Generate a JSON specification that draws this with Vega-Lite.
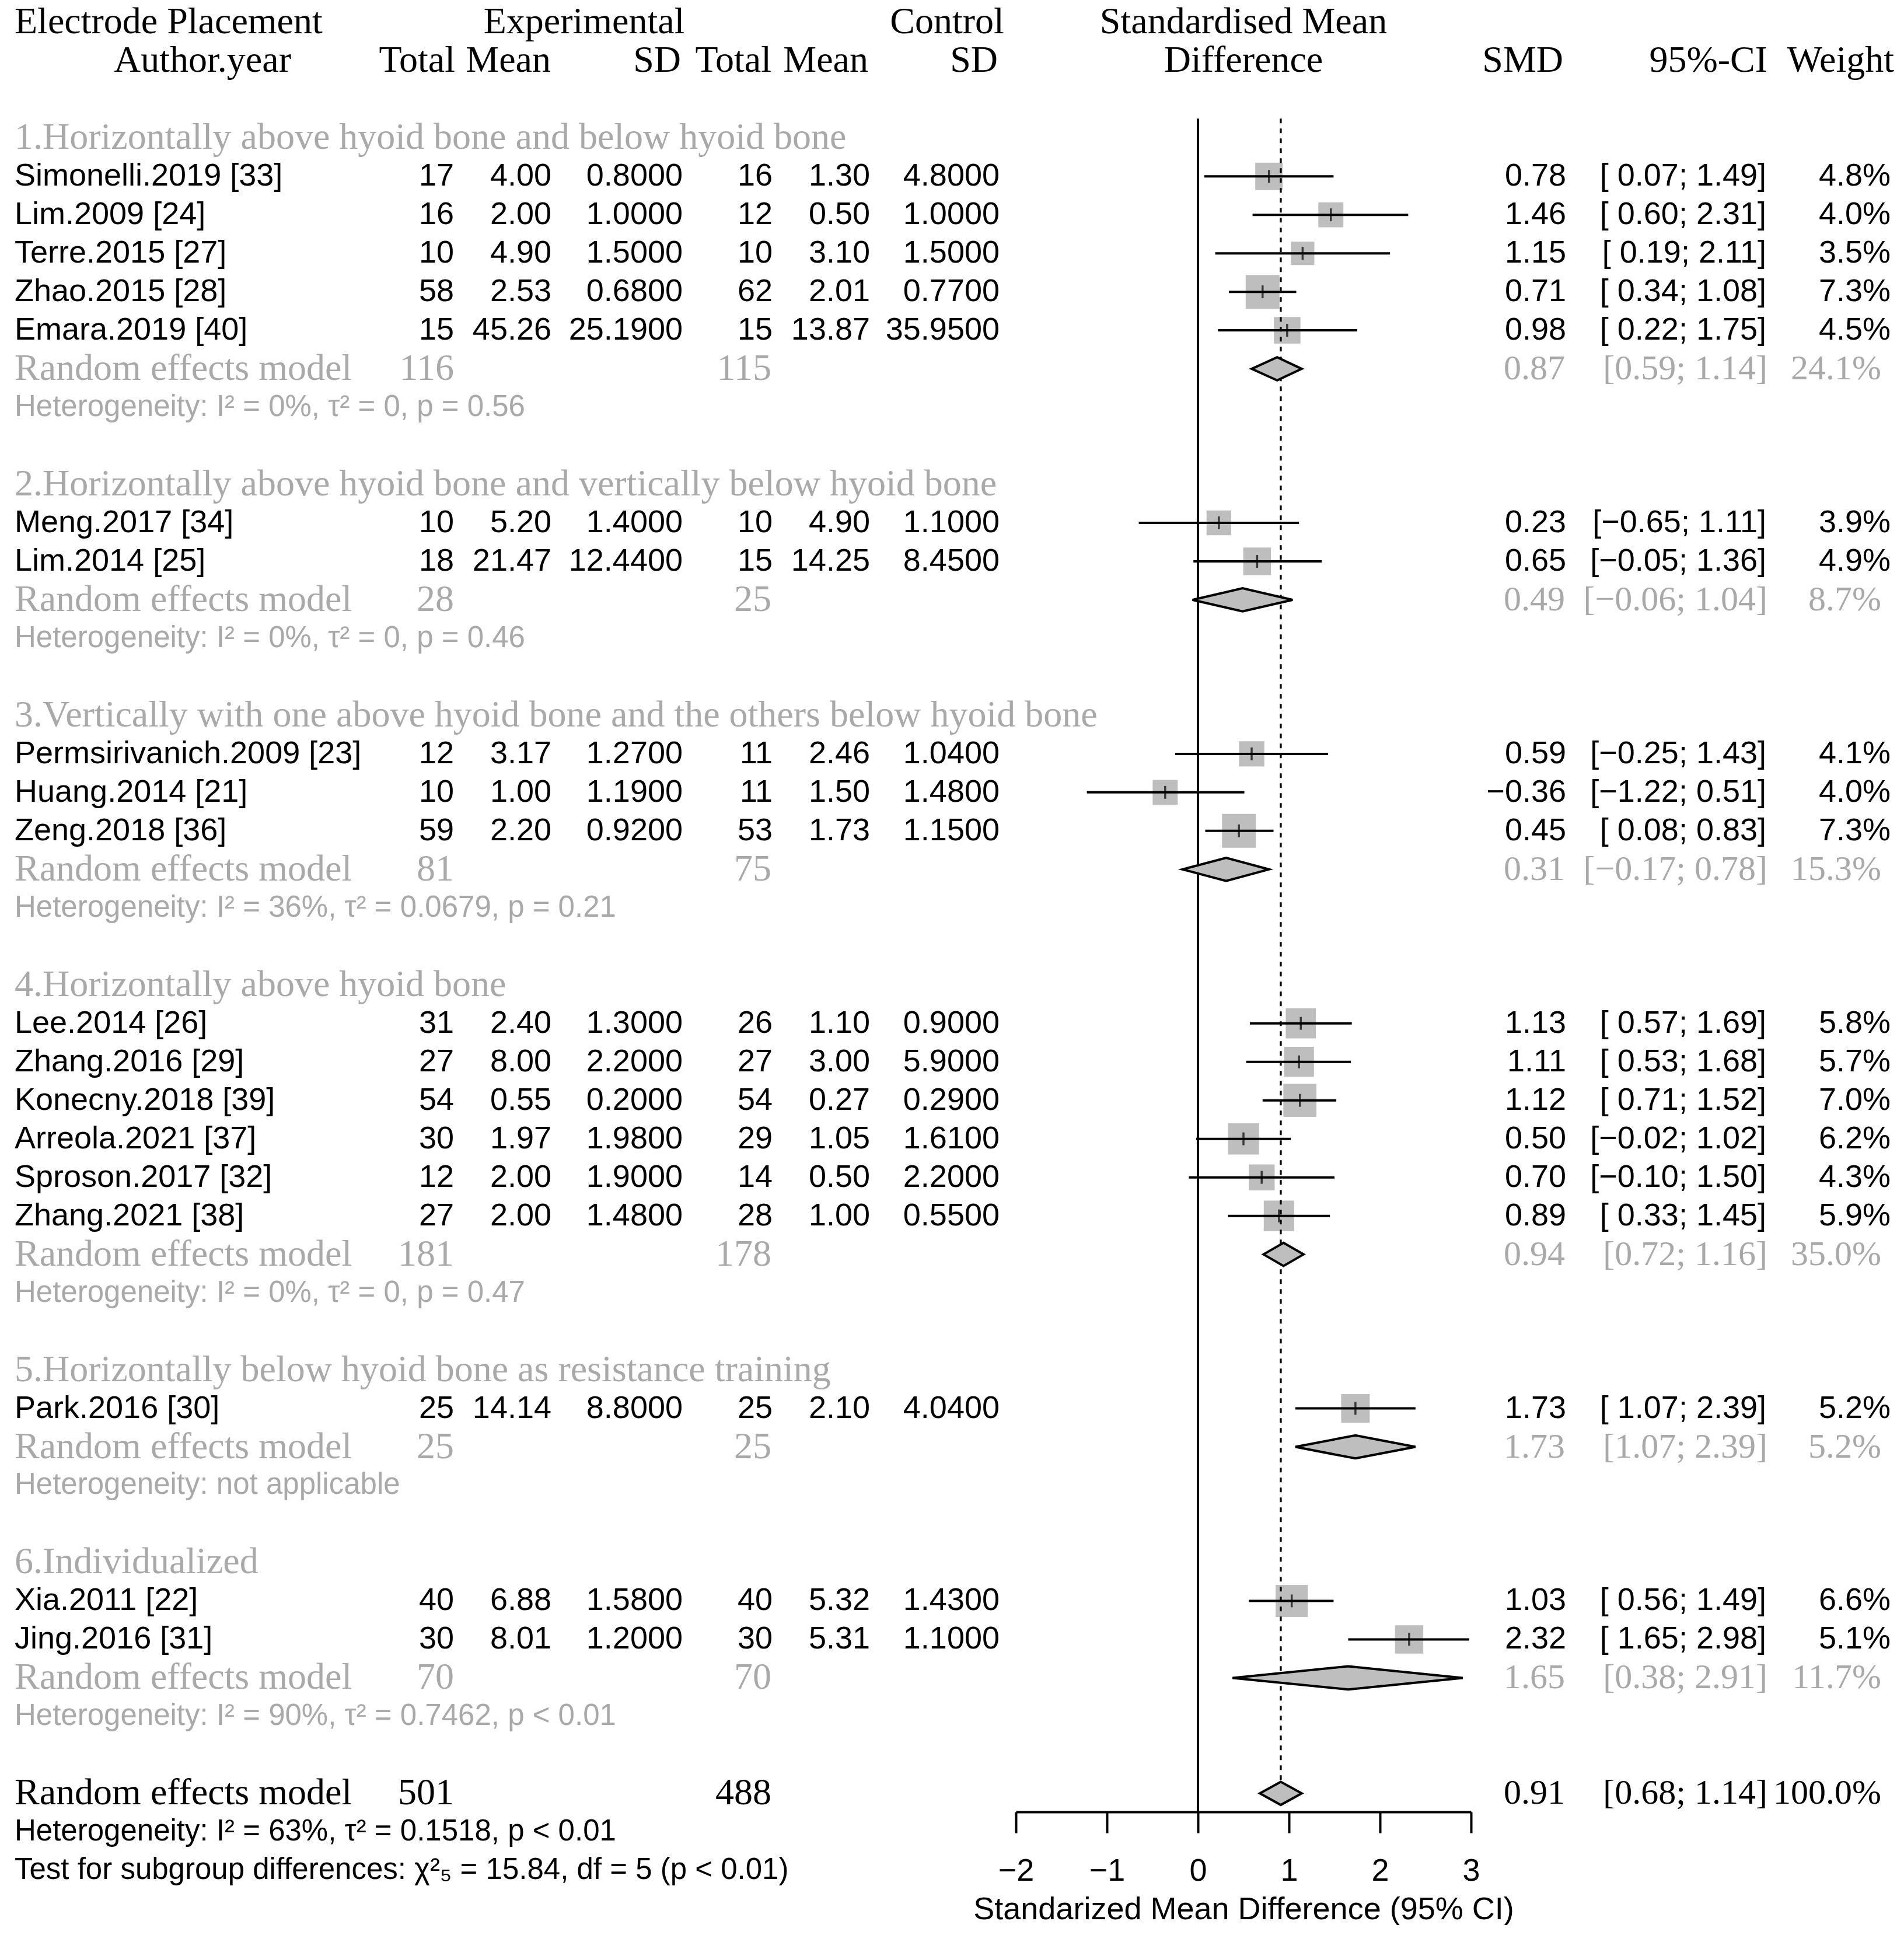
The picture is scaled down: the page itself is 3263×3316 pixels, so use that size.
{
"$schema":"https://vega.github.io/schema/vega-lite/v6.json",
"padding":0,
"background":"white",
"bounds":"flush",
"spacing":0,
"config":{"view":{"stroke":null},"text":{"baseline":"middle"},
"axisX":{"grid":false,"domainColor":"black","domainWidth":4,"tickColor":"black","tickWidth":4,"tickSize":36,"labelFont":"Liberation Sans","labelFontSize":54,"labelColor":"black","labelPadding":38,"labelFlush":false,"labelOverlap":false,"labelBound":false,"titleFont":"Liberation Sans","titleFontSize":54,"titleFontWeight":"normal","titleColor":"black","titlePadding":12}},
"datasets":{
"head":[
{"row":0,"label":"Electrode Placement","exp":"Experimental","ctrl":"Control","mid":"Standardised Mean"},
{"row":1,"author":"Author.year","eN":"Total","eM":"Mean","eSD":"SD","cN":"Total","cM":"Mean","cSD":"SD","mid":"Difference","smd":"SMD","ci":"95%-CI","w":"Weight"}
],
"groups":[
{"row":3,"text":"1.Horizontally above hyoid bone and below hyoid bone"},
{"row":12,"text":"2.Horizontally above hyoid bone and vertically below hyoid bone"},
{"row":18,"text":"3.Vertically with one above hyoid bone and the others below hyoid bone"},
{"row":25,"text":"4.Horizontally above hyoid bone"},
{"row":35,"text":"5.Horizontally below hyoid bone as resistance training"},
{"row":40,"text":"6.Individualized"}
],
"studies":[
{"row":4,"study":"Simonelli.2019 [33]","eN":17,"eM":4.00,"eSD":0.8,"cN":16,"cM":1.30,"cSD":4.8,"smd":0.78,"lo":0.07,"hi":1.49,"w":0.048},
{"row":5,"study":"Lim.2009 [24]","eN":16,"eM":2.00,"eSD":1.0,"cN":12,"cM":0.50,"cSD":1.0,"smd":1.46,"lo":0.60,"hi":2.31,"w":0.040},
{"row":6,"study":"Terre.2015 [27]","eN":10,"eM":4.90,"eSD":1.5,"cN":10,"cM":3.10,"cSD":1.5,"smd":1.15,"lo":0.19,"hi":2.11,"w":0.035},
{"row":7,"study":"Zhao.2015 [28]","eN":58,"eM":2.53,"eSD":0.68,"cN":62,"cM":2.01,"cSD":0.77,"smd":0.71,"lo":0.34,"hi":1.08,"w":0.073},
{"row":8,"study":"Emara.2019 [40]","eN":15,"eM":45.26,"eSD":25.19,"cN":15,"cM":13.87,"cSD":35.95,"smd":0.98,"lo":0.22,"hi":1.75,"w":0.045},
{"row":13,"study":"Meng.2017 [34]","eN":10,"eM":5.20,"eSD":1.4,"cN":10,"cM":4.90,"cSD":1.1,"smd":0.23,"lo":-0.65,"hi":1.11,"w":0.039},
{"row":14,"study":"Lim.2014 [25]","eN":18,"eM":21.47,"eSD":12.44,"cN":15,"cM":14.25,"cSD":8.45,"smd":0.65,"lo":-0.05,"hi":1.36,"w":0.049},
{"row":19,"study":"Permsirivanich.2009 [23]","eN":12,"eM":3.17,"eSD":1.27,"cN":11,"cM":2.46,"cSD":1.04,"smd":0.59,"lo":-0.25,"hi":1.43,"w":0.041},
{"row":20,"study":"Huang.2014 [21]","eN":10,"eM":1.00,"eSD":1.19,"cN":11,"cM":1.50,"cSD":1.48,"smd":-0.36,"lo":-1.22,"hi":0.51,"w":0.040},
{"row":21,"study":"Zeng.2018 [36]","eN":59,"eM":2.20,"eSD":0.92,"cN":53,"cM":1.73,"cSD":1.15,"smd":0.45,"lo":0.08,"hi":0.83,"w":0.073},
{"row":26,"study":"Lee.2014 [26]","eN":31,"eM":2.40,"eSD":1.3,"cN":26,"cM":1.10,"cSD":0.9,"smd":1.13,"lo":0.57,"hi":1.69,"w":0.058},
{"row":27,"study":"Zhang.2016 [29]","eN":27,"eM":8.00,"eSD":2.2,"cN":27,"cM":3.00,"cSD":5.9,"smd":1.11,"lo":0.53,"hi":1.68,"w":0.057},
{"row":28,"study":"Konecny.2018 [39]","eN":54,"eM":0.55,"eSD":0.2,"cN":54,"cM":0.27,"cSD":0.29,"smd":1.12,"lo":0.71,"hi":1.52,"w":0.070},
{"row":29,"study":"Arreola.2021 [37]","eN":30,"eM":1.97,"eSD":1.98,"cN":29,"cM":1.05,"cSD":1.61,"smd":0.50,"lo":-0.02,"hi":1.02,"w":0.062},
{"row":30,"study":"Sproson.2017 [32]","eN":12,"eM":2.00,"eSD":1.9,"cN":14,"cM":0.50,"cSD":2.2,"smd":0.70,"lo":-0.10,"hi":1.50,"w":0.043},
{"row":31,"study":"Zhang.2021 [38]","eN":27,"eM":2.00,"eSD":1.48,"cN":28,"cM":1.00,"cSD":0.55,"smd":0.89,"lo":0.33,"hi":1.45,"w":0.059},
{"row":36,"study":"Park.2016 [30]","eN":25,"eM":14.14,"eSD":8.8,"cN":25,"cM":2.10,"cSD":4.04,"smd":1.73,"lo":1.07,"hi":2.39,"w":0.052},
{"row":41,"study":"Xia.2011 [22]","eN":40,"eM":6.88,"eSD":1.58,"cN":40,"cM":5.32,"cSD":1.43,"smd":1.03,"lo":0.56,"hi":1.49,"w":0.066},
{"row":42,"study":"Jing.2016 [31]","eN":30,"eM":8.01,"eSD":1.2,"cN":30,"cM":5.31,"cSD":1.1,"smd":2.32,"lo":1.65,"hi":2.98,"w":0.051}
],
"pooled":[
{"row":9,"label":"Random effects model","eN":116,"cN":115,"smd":0.87,"lo":0.59,"hi":1.14,"w":0.241,"kind":"sub"},
{"row":15,"label":"Random effects model","eN":28,"cN":25,"smd":0.49,"lo":-0.06,"hi":1.04,"w":0.087,"kind":"sub"},
{"row":22,"label":"Random effects model","eN":81,"cN":75,"smd":0.31,"lo":-0.17,"hi":0.78,"w":0.153,"kind":"sub"},
{"row":32,"label":"Random effects model","eN":181,"cN":178,"smd":0.94,"lo":0.72,"hi":1.16,"w":0.350,"kind":"sub"},
{"row":37,"label":"Random effects model","eN":25,"cN":25,"smd":1.73,"lo":1.07,"hi":2.39,"w":0.052,"kind":"sub"},
{"row":43,"label":"Random effects model","eN":70,"cN":70,"smd":1.65,"lo":0.38,"hi":2.91,"w":0.117,"kind":"sub"},
{"row":46,"label":"Random effects model","eN":501,"cN":488,"smd":0.91,"lo":0.68,"hi":1.14,"w":1.0,"kind":"all"}
],
"het":[
{"row":10,"text":"Heterogeneity: I² = 0%, τ² = 0, p = 0.56","kind":"sub"},
{"row":16,"text":"Heterogeneity: I² = 0%, τ² = 0, p = 0.46","kind":"sub"},
{"row":23,"text":"Heterogeneity: I² = 36%, τ² = 0.0679, p = 0.21","kind":"sub"},
{"row":33,"text":"Heterogeneity: I² = 0%, τ² = 0, p = 0.47","kind":"sub"},
{"row":38,"text":"Heterogeneity: not applicable","kind":"sub"},
{"row":44,"text":"Heterogeneity: I² = 90%, τ² = 0.7462, p < 0.01","kind":"sub"},
{"row":47,"text":"Heterogeneity: I² = 63%, τ² = 0.1518, p < 0.01","kind":"all"},
{"row":48,"text":"Test for subgroup differences: χ²₅ = 15.84, df = 5 (p < 0.01)","kind":"all"}
]
},
"hconcat":[
{
"width":1741,"height":3105,
"encoding":{"y":{"field":"row","type":"quantitative","scale":{"domain":[-0.58,46.48],"reverse":true,"nice":false,"zero":false},"axis":null}},
"layer":[
{"data":{"name":"head"},"transform":[{"filter":"isValid(datum.label)"}],"mark":{"type":"text","align":"left","font":"Liberation Serif","fontSize":64,"color":"black"},"encoding":{"x":{"datum":25,"type":"quantitative","scale":{"domain":[0,1741],"nice":false,"zero":false},"axis":null},"text":{"field":"label"}}},
{"data":{"name":"head"},"transform":[{"filter":"isValid(datum.exp)"}],"mark":{"type":"text","align":"center","font":"Liberation Serif","fontSize":64,"color":"black"},"encoding":{"x":{"datum":1001,"type":"quantitative","scale":{"domain":[0,1741],"nice":false,"zero":false},"axis":null},"text":{"field":"exp"}}},
{"data":{"name":"head"},"transform":[{"filter":"isValid(datum.ctrl)"}],"mark":{"type":"text","align":"center","font":"Liberation Serif","fontSize":64,"color":"black"},"encoding":{"x":{"datum":1623,"type":"quantitative","scale":{"domain":[0,1741],"nice":false,"zero":false},"axis":null},"text":{"field":"ctrl"}}},
{"data":{"name":"head"},"transform":[{"filter":"isValid(datum.author)"}],"mark":{"type":"text","align":"center","font":"Liberation Serif","fontSize":64,"color":"black"},"encoding":{"x":{"datum":347,"type":"quantitative","scale":{"domain":[0,1741],"nice":false,"zero":false},"axis":null},"text":{"field":"author"}}},
{"data":{"name":"head"},"transform":[{"filter":"isValid(datum.eN)"}],"mark":{"type":"text","align":"right","font":"Liberation Serif","fontSize":64,"color":"black"},"encoding":{"x":{"datum":780,"type":"quantitative","scale":{"domain":[0,1741],"nice":false,"zero":false},"axis":null},"text":{"field":"eN"}}},
{"data":{"name":"head"},"transform":[{"filter":"isValid(datum.eM)"}],"mark":{"type":"text","align":"right","font":"Liberation Serif","fontSize":64,"color":"black"},"encoding":{"x":{"datum":944,"type":"quantitative","scale":{"domain":[0,1741],"nice":false,"zero":false},"axis":null},"text":{"field":"eM"}}},
{"data":{"name":"head"},"transform":[{"filter":"isValid(datum.eSD)"}],"mark":{"type":"text","align":"right","font":"Liberation Serif","fontSize":64,"color":"black"},"encoding":{"x":{"datum":1167,"type":"quantitative","scale":{"domain":[0,1741],"nice":false,"zero":false},"axis":null},"text":{"field":"eSD"}}},
{"data":{"name":"head"},"transform":[{"filter":"isValid(datum.cN)"}],"mark":{"type":"text","align":"right","font":"Liberation Serif","fontSize":64,"color":"black"},"encoding":{"x":{"datum":1322,"type":"quantitative","scale":{"domain":[0,1741],"nice":false,"zero":false},"axis":null},"text":{"field":"cN"}}},
{"data":{"name":"head"},"transform":[{"filter":"isValid(datum.cM)"}],"mark":{"type":"text","align":"right","font":"Liberation Serif","fontSize":64,"color":"black"},"encoding":{"x":{"datum":1488,"type":"quantitative","scale":{"domain":[0,1741],"nice":false,"zero":false},"axis":null},"text":{"field":"cM"}}},
{"data":{"name":"head"},"transform":[{"filter":"isValid(datum.cSD)"}],"mark":{"type":"text","align":"right","font":"Liberation Serif","fontSize":64,"color":"black"},"encoding":{"x":{"datum":1710,"type":"quantitative","scale":{"domain":[0,1741],"nice":false,"zero":false},"axis":null},"text":{"field":"cSD"}}},
{"data":{"name":"groups"},"mark":{"type":"text","align":"left","font":"Liberation Serif","fontSize":64,"color":"#A9A9A9"},"encoding":{"x":{"datum":25,"type":"quantitative","scale":{"domain":[0,1741],"nice":false,"zero":false},"axis":null},"text":{"field":"text"}}},
{"data":{"name":"studies"},"mark":{"type":"text","align":"left","font":"Liberation Sans","fontSize":54,"color":"black"},"encoding":{"x":{"datum":25,"type":"quantitative","scale":{"domain":[0,1741],"nice":false,"zero":false},"axis":null},"text":{"field":"study"}}},
{"data":{"name":"studies"},"mark":{"type":"text","align":"right","font":"Liberation Sans","fontSize":54,"color":"black"},"encoding":{"x":{"datum":778,"type":"quantitative","scale":{"domain":[0,1741],"nice":false,"zero":false},"axis":null},"text":{"field":"eN","type":"quantitative","format":"d"}}},
{"data":{"name":"studies"},"mark":{"type":"text","align":"right","font":"Liberation Sans","fontSize":54,"color":"black"},"encoding":{"x":{"datum":945,"type":"quantitative","scale":{"domain":[0,1741],"nice":false,"zero":false},"axis":null},"text":{"field":"eM","type":"quantitative","format":".2f"}}},
{"data":{"name":"studies"},"mark":{"type":"text","align":"right","font":"Liberation Sans","fontSize":54,"color":"black"},"encoding":{"x":{"datum":1170,"type":"quantitative","scale":{"domain":[0,1741],"nice":false,"zero":false},"axis":null},"text":{"field":"eSD","type":"quantitative","format":".4f"}}},
{"data":{"name":"studies"},"mark":{"type":"text","align":"right","font":"Liberation Sans","fontSize":54,"color":"black"},"encoding":{"x":{"datum":1324,"type":"quantitative","scale":{"domain":[0,1741],"nice":false,"zero":false},"axis":null},"text":{"field":"cN","type":"quantitative","format":"d"}}},
{"data":{"name":"studies"},"mark":{"type":"text","align":"right","font":"Liberation Sans","fontSize":54,"color":"black"},"encoding":{"x":{"datum":1491,"type":"quantitative","scale":{"domain":[0,1741],"nice":false,"zero":false},"axis":null},"text":{"field":"cM","type":"quantitative","format":".2f"}}},
{"data":{"name":"studies"},"mark":{"type":"text","align":"right","font":"Liberation Sans","fontSize":54,"color":"black"},"encoding":{"x":{"datum":1713,"type":"quantitative","scale":{"domain":[0,1741],"nice":false,"zero":false},"axis":null},"text":{"field":"cSD","type":"quantitative","format":".4f"}}},
{"data":{"name":"pooled"},"mark":{"type":"text","align":"left","font":"Liberation Serif","fontSize":64},"encoding":{"x":{"datum":25,"type":"quantitative","scale":{"domain":[0,1741],"nice":false,"zero":false},"axis":null},"text":{"field":"label"},"color":{"field":"kind","type":"nominal","scale":{"domain":["sub","all"],"range":["#A9A9A9","black"]},"legend":null}}},
{"data":{"name":"pooled"},"mark":{"type":"text","align":"right","font":"Liberation Serif","fontSize":64},"encoding":{"x":{"datum":778,"type":"quantitative","scale":{"domain":[0,1741],"nice":false,"zero":false},"axis":null},"text":{"field":"eN","type":"quantitative","format":"d"},"color":{"field":"kind","type":"nominal","scale":{"domain":["sub","all"],"range":["#A9A9A9","black"]},"legend":null}}},
{"data":{"name":"pooled"},"mark":{"type":"text","align":"right","font":"Liberation Serif","fontSize":64},"encoding":{"x":{"datum":1322,"type":"quantitative","scale":{"domain":[0,1741],"nice":false,"zero":false},"axis":null},"text":{"field":"cN","type":"quantitative","format":"d"},"color":{"field":"kind","type":"nominal","scale":{"domain":["sub","all"],"range":["#A9A9A9","black"]},"legend":null}}},
{"data":{"name":"het"},"mark":{"type":"text","align":"left","font":"Liberation Sans","fontSize":51},"encoding":{"x":{"datum":25,"type":"quantitative","scale":{"domain":[0,1741],"nice":false,"zero":false},"axis":null},"text":{"field":"text"},"color":{"field":"kind","type":"nominal","scale":{"domain":["sub","all"],"range":["#A9A9A9","black"]},"legend":null}}}
]
},
{
"width":780,"height":3105,
"encoding":{"y":{"field":"row","type":"quantitative","scale":{"domain":[-0.58,46.48],"reverse":true,"nice":false,"zero":false},"axis":null}},
"layer":[
{"data":{"name":"studies"},"mark":{"type":"point","shape":"square","filled":true,"color":"#BEBEBE","opacity":1,"strokeWidth":0},"encoding":{"x":{"field":"smd","type":"quantitative","scale":{"domain":[-2,3],"nice":false,"zero":false},"axis":{"values":[-2,-1,0,1,2,3],"title":"Standarized Mean Difference (95% CI)"}},"size":{"field":"w","type":"quantitative","scale":{"domain":[0,0.1],"range":[0,4600],"zero":true},"legend":null}}},
{"data":{"name":"pooled"},"transform":[{"filter":"datum.kind == 'all'"}],"mark":{"type":"rule","color":"black","strokeWidth":4},"encoding":{"x":{"datum":0,"type":"quantitative","scale":{"domain":[-2,3],"nice":false,"zero":false},"axis":{"values":[-2,-1,0,1,2,3],"title":"Standarized Mean Difference (95% CI)"}},"y":{"datum":2.5,"type":"quantitative","scale":{"domain":[-0.58,46.48],"reverse":true,"nice":false,"zero":false},"axis":null},"y2":{"datum":46.48}}},
{"data":{"name":"pooled"},"transform":[{"filter":"datum.kind == 'all'"}],"mark":{"type":"rule","color":"black","strokeWidth":3.3,"strokeDash":[8,9]},"encoding":{"x":{"field":"smd","type":"quantitative","scale":{"domain":[-2,3],"nice":false,"zero":false},"axis":{"values":[-2,-1,0,1,2,3],"title":"Standarized Mean Difference (95% CI)"}},"y":{"datum":2.5,"type":"quantitative","scale":{"domain":[-0.58,46.48],"reverse":true,"nice":false,"zero":false},"axis":null},"y2":{"datum":45.7}}},
{"data":{"name":"studies"},"mark":{"type":"rule","color":"black","strokeWidth":4},"encoding":{"x":{"field":"lo","type":"quantitative","scale":{"domain":[-2,3],"nice":false,"zero":false},"axis":{"values":[-2,-1,0,1,2,3],"title":"Standarized Mean Difference (95% CI)"}},"x2":{"field":"hi"}}},
{"data":{"name":"studies"},"mark":{"type":"tick","orient":"vertical","color":"black","size":22,"thickness":3.5},"encoding":{"x":{"field":"smd","type":"quantitative","scale":{"domain":[-2,3],"nice":false,"zero":false},"axis":{"values":[-2,-1,0,1,2,3],"title":"Standarized Mean Difference (95% CI)"}}}},
{"data":{"name":"pooled"},"transform":[{"fold":["lo","smd","hi"],"as":["vk","vx"]},{"calculate":"datum.vk == 'smd' ? 0.3 : 0","as":"dh"},{"calculate":"datum.row - datum.dh","as":"ytop"},{"calculate":"datum.row + datum.dh","as":"ybot"}],"mark":{"type":"area","orient":"vertical","fill":"#BEBEBE","stroke":"black","strokeWidth":4,"opacity":1,"fillOpacity":1},"encoding":{"x":{"field":"vx","type":"quantitative","scale":{"domain":[-2,3],"nice":false,"zero":false},"axis":{"values":[-2,-1,0,1,2,3],"title":"Standarized Mean Difference (95% CI)"}},"y":{"field":"ytop","type":"quantitative","stack":null,"scale":{"domain":[-0.58,46.48],"reverse":true,"nice":false,"zero":false},"axis":null},"y2":{"field":"ybot"},"detail":{"field":"row"}}},
{"data":{"name":"head"},"mark":{"type":"text","align":"center","font":"Liberation Serif","fontSize":64,"color":"black"},"encoding":{"x":{"datum":0.5,"type":"quantitative","scale":{"domain":[-2,3],"nice":false,"zero":false},"axis":{"values":[-2,-1,0,1,2,3],"title":"Standarized Mean Difference (95% CI)"}},"text":{"field":"mid"}}}
]
},
{
"width":742,"height":3105,
"encoding":{"y":{"field":"row","type":"quantitative","scale":{"domain":[-0.58,46.48],"reverse":true,"nice":false,"zero":false},"axis":null}},
"layer":[
{"data":{"name":"head"},"transform":[{"filter":"isValid(datum.smd)"}],"mark":{"type":"text","align":"right","font":"Liberation Serif","fontSize":64,"color":"black"},"encoding":{"x":{"datum":158,"type":"quantitative","scale":{"domain":[0,742],"nice":false,"zero":false},"axis":null},"text":{"field":"smd"}}},
{"data":{"name":"head"},"transform":[{"filter":"isValid(datum.ci)"}],"mark":{"type":"text","align":"right","font":"Liberation Serif","fontSize":64,"color":"black"},"encoding":{"x":{"datum":508,"type":"quantitative","scale":{"domain":[0,742],"nice":false,"zero":false},"axis":null},"text":{"field":"ci"}}},
{"data":{"name":"head"},"transform":[{"filter":"isValid(datum.w)"}],"mark":{"type":"text","align":"right","font":"Liberation Serif","fontSize":64,"color":"black"},"encoding":{"x":{"datum":725,"type":"quantitative","scale":{"domain":[0,742],"nice":false,"zero":false},"axis":null},"text":{"field":"w"}}},
{"data":{"name":"studies"},"mark":{"type":"text","align":"right","font":"Liberation Sans","fontSize":54,"color":"black"},"encoding":{"x":{"datum":163,"type":"quantitative","scale":{"domain":[0,742],"nice":false,"zero":false},"axis":null},"text":{"field":"smd","type":"quantitative","format":".2f"}}},
{"data":{"name":"studies"},"transform":[{"calculate":"'[' + (datum.lo < 0 ? '' : ' ') + format(datum.lo, '.2f') + '; ' + format(datum.hi, '.2f') + ']'","as":"citext"}],"mark":{"type":"text","align":"right","font":"Liberation Sans","fontSize":54,"color":"black"},"encoding":{"x":{"datum":506,"type":"quantitative","scale":{"domain":[0,742],"nice":false,"zero":false},"axis":null},"text":{"field":"citext"}}},
{"data":{"name":"studies"},"mark":{"type":"text","align":"right","font":"Liberation Sans","fontSize":54,"color":"black"},"encoding":{"x":{"datum":719,"type":"quantitative","scale":{"domain":[0,742],"nice":false,"zero":false},"axis":null},"text":{"field":"w","type":"quantitative","format":".1%"}}},
{"data":{"name":"pooled"},"mark":{"type":"text","align":"right","font":"Liberation Serif","fontSize":60},"encoding":{"x":{"datum":161,"type":"quantitative","scale":{"domain":[0,742],"nice":false,"zero":false},"axis":null},"text":{"field":"smd","type":"quantitative","format":".2f"},"color":{"field":"kind","type":"nominal","scale":{"domain":["sub","all"],"range":["#A9A9A9","black"]},"legend":null}}},
{"data":{"name":"pooled"},"transform":[{"calculate":"'[' + format(datum.lo, '.2f') + '; ' + format(datum.hi, '.2f') + ']'","as":"citext"}],"mark":{"type":"text","align":"right","font":"Liberation Serif","fontSize":60},"encoding":{"x":{"datum":508,"type":"quantitative","scale":{"domain":[0,742],"nice":false,"zero":false},"axis":null},"text":{"field":"citext"},"color":{"field":"kind","type":"nominal","scale":{"domain":["sub","all"],"range":["#A9A9A9","black"]},"legend":null}}},
{"data":{"name":"pooled"},"mark":{"type":"text","align":"right","font":"Liberation Serif","fontSize":60},"encoding":{"x":{"datum":703,"type":"quantitative","scale":{"domain":[0,742],"nice":false,"zero":false},"axis":null},"text":{"field":"w","type":"quantitative","format":".1%"},"color":{"field":"kind","type":"nominal","scale":{"domain":["sub","all"],"range":["#A9A9A9","black"]},"legend":null}}}
]
}
]
}
